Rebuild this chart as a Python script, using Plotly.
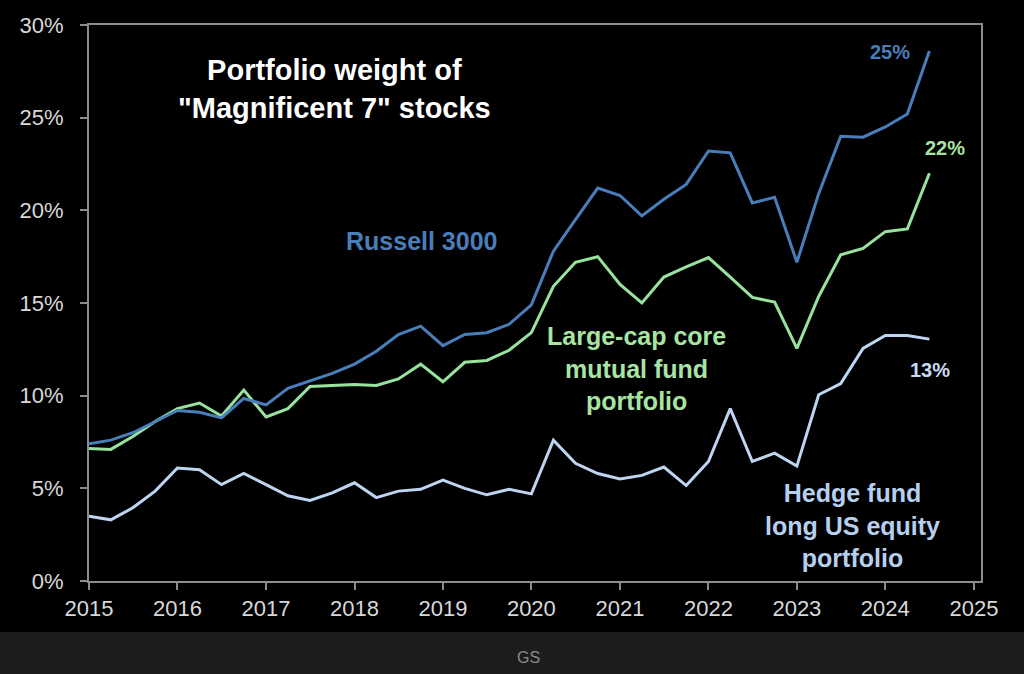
import plotly.graph_objects as go

dates = [
    "2015-01-01", "2015-04-01", "2015-07-01", "2015-10-01",
    "2016-01-01", "2016-04-01", "2016-07-01", "2016-10-01",
    "2017-01-01", "2017-04-01", "2017-07-01", "2017-10-01",
    "2018-01-01", "2018-04-01", "2018-07-01", "2018-10-01",
    "2019-01-01", "2019-04-01", "2019-07-01", "2019-10-01",
    "2020-01-01", "2020-04-01", "2020-07-01", "2020-10-01",
    "2021-01-01", "2021-04-01", "2021-07-01", "2021-10-01",
    "2022-01-01", "2022-04-01", "2022-07-01", "2022-10-01",
    "2023-01-01", "2023-04-01", "2023-07-01", "2023-10-01",
    "2024-01-01", "2024-04-01", "2024-07-01",
]

russell_3000 = [
    7.4, 7.6, 8.0, 8.6, 9.2, 9.1, 8.8, 9.85, 9.5, 10.4,
    10.8, 11.2, 11.7, 12.4, 13.3, 13.75, 12.7, 13.3, 13.4, 13.85,
    14.9, 17.8, 19.5, 21.2, 20.8, 19.7, 20.6, 21.4, 23.2, 23.1,
    20.4, 20.7, 17.2, 20.9, 24.0, 23.95, 24.5, 25.2, 28.6,
]

large_cap_mf = [
    7.15, 7.1, 7.8, 8.6, 9.3, 9.6, 8.9, 10.3, 8.85, 9.3,
    10.5, 10.55, 10.6, 10.55, 10.9, 11.7, 10.75, 11.8, 11.9, 12.45,
    13.4, 15.9, 17.2, 17.5, 16.0, 15.0, 16.4, 16.95, 17.45, 16.4,
    15.3, 15.05, 12.55, 15.35, 17.6, 17.95, 18.85, 19.0, 22.0,
]

hedge_fund = [
    3.5, 3.3, 3.95, 4.85, 6.1, 6.0, 5.2, 5.8, 5.2, 4.6,
    4.35, 4.75, 5.3, 4.5, 4.85, 4.95, 5.45, 5.0, 4.65, 4.95,
    4.7, 7.6, 6.35, 5.8, 5.5, 5.7, 6.15, 5.15, 6.45, 9.3,
    6.45, 6.9, 6.2, 10.05, 10.65, 12.55, 13.25, 13.25, 13.05,
]

y_ticks = [0, 5, 10, 15, 20, 25, 30]
y_tick_text = ["0%", "5%", "10%", "15%", "20%", "25%", "30%"]
x_ticks = ["2015-01-01", "2016-01-01", "2017-01-01", "2018-01-01",
           "2019-01-01", "2020-01-01", "2021-01-01", "2022-01-01",
           "2023-01-01", "2024-01-01", "2025-01-01"]
x_tick_text = ["2015", "2016", "2017", "2018", "2019", "2020",
               "2021", "2022", "2023", "2024", "2025"]

C_RUSSELL = "#4a7ebb"
C_GREEN = "#98e29e"
C_HEDGE = "#bed5f2"
AXIS = "#8c8c8c"
FONT = "Liberation Sans, Arial, sans-serif"

fig = go.Figure()
for name, vals, col in [
    ("Hedge fund", hedge_fund, C_HEDGE),
    ("Large-cap core", large_cap_mf, C_GREEN),
    ("Russell 3000", russell_3000, C_RUSSELL),
]:
    fig.add_trace(go.Scatter(x=dates, y=vals, mode="lines", name=name,
                             line=dict(color=col, width=3), showlegend=False))

fig.update_layout(
    width=1024, height=674,
    margin=dict(l=89, r=43, t=25, b=93),
    paper_bgcolor="#000000", plot_bgcolor="#000000",
    font=dict(family=FONT, color="#d8d8d8", size=22),
    xaxis=dict(
        type="date", range=["2015-01-01", "2025-01-30"],
        tickmode="array", tickvals=x_ticks, ticktext=x_tick_text,
        showline=True, linecolor=AXIS, linewidth=2, mirror=True,
        ticks="outside", ticklen=7, tickwidth=2, tickcolor=AXIS,
        showgrid=False, zeroline=False,
        tickfont=dict(size=22, color="#d8d8d8", family=FONT),
    ),
    yaxis=dict(
        range=[0, 30], tickmode="array", tickvals=y_ticks, ticktext=y_tick_text,
        showline=True, linecolor=AXIS, linewidth=2, mirror=True,
        ticks="outside", ticklen=7, tickwidth=2, tickcolor=AXIS,
        showgrid=False, zeroline=False, ticklabelstandoff=12,
        tickfont=dict(size=22, color="#d8d8d8", family=FONT),
    ),
)

fig.add_shape(type="rect", xref="paper", yref="paper",
              x0=-0.12, x1=1.08, y0=-0.0917, y1=-0.18,
              fillcolor="#1c1c1c", line=dict(width=0), layer="below")

def ann(text, x, y, size, color, bold=True):
    fig.add_annotation(text=f"<b>{text}</b>" if bold else text,
                       xref="paper", yref="paper", x=x, y=y,
                       showarrow=False, xanchor="center", yanchor="middle",
                       font=dict(size=size, color=color, family=FONT))

ann("Portfolio weight of<br>\"Magnificent 7\" stocks", 0.2747, 0.885, 29, "#ffffff")
ann("Russell 3000", 0.3733, 0.6115, 25, C_RUSSELL)
ann("Large-cap core<br>mutual fund<br>portfolio", 0.6143, 0.383, 25, "#a8e3a2")
ann("Hedge fund<br>long US equity<br>portfolio", 0.8565, 0.1007, 25, "#b6cfee")
ann("25%", 0.898, 0.9514, 20, C_RUSSELL)
ann("22%", 0.9596, 0.7788, 20, "#a8e3a2")
ann("13%", 0.9428, 0.3795, 20, "#c8daf2")
ann("GS", 0.4922, -0.1367, 16, "#8a8a8a", bold=False)

fig.write_html("out.html")
